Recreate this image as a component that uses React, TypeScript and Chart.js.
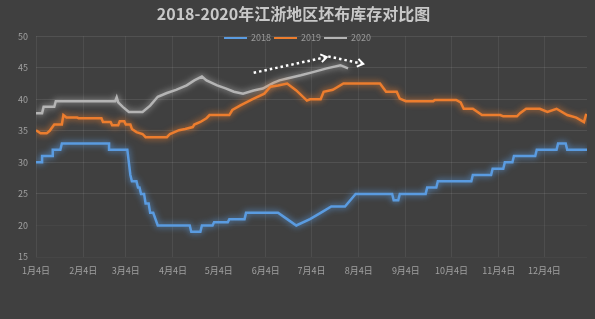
import React, { useEffect, useRef } from "react";
import { Chart, registerables } from "chart.js";

Chart.register(...registerables);

const chartTitle = "2018-2020年江浙地区坯布库存对比图";
const seriesNames = ["2018", "2019", "2020"];
const seriesColors = ["#5a9be0", "#ec7d2e", "#b4b4b4"];

// x = days since 1月4日
const tickDays = [0, 31, 59, 90, 120, 151, 181, 212, 243, 273, 304, 334];
const tickLabels = ["1月4日", "2月4日", "3月4日", "4月4日", "5月4日", "6月4日", "7月4日", "8月4日", "9月4日", "10月4日", "11月4日", "12月4日"];
const yTicks = [15, 20, 25, 30, 35, 40, 45, 50];

const days2018 = [0, 4, 4, 11, 11, 16, 17, 48, 48, 60, 61, 62, 63, 66, 67, 68, 69, 71, 72, 74, 75, 77, 80, 101, 102, 108, 109, 116, 117, 126, 127, 137, 138, 159, 165, 171, 180, 187, 194, 203, 210, 234, 235, 238, 239, 256, 257, 263, 264, 286, 287, 299, 300, 307, 308, 313, 314, 328, 329, 342, 343, 348, 349, 362];
const values2018 = [30, 30, 31, 31, 32, 32, 33, 33, 32, 32, 30, 28, 27, 27, 26, 26, 25, 25, 23.5, 23.5, 22, 22, 20, 20, 19, 19, 20, 20, 20.5, 20.5, 21, 21, 22, 22, 21, 20, 21, 22, 23, 23, 25, 25, 24, 24, 25, 25, 26, 26, 27, 27, 28, 28, 29, 29, 30, 30, 31, 31, 32, 32, 33, 33, 32, 32];

const days2019 = [0, 3, 7, 9, 12, 17, 18, 20, 27, 28, 43, 44, 49, 50, 54, 55, 58, 59, 62, 63, 66, 70, 72, 86, 88, 94, 98, 103, 104, 108, 112, 114, 127, 129, 134, 142, 150, 154, 159, 165, 171, 178, 180, 187, 189, 195, 202, 226, 230, 237, 239, 243, 261, 262, 276, 279, 281, 287, 293, 305, 307, 316, 318, 322, 331, 336, 342, 349, 355, 360, 361.5];
const values2019 = [35.1, 34.6, 34.6, 35, 36, 36, 37.5, 37.1, 37.1, 37, 37, 36.4, 36.4, 35.9, 35.9, 36.5, 36.5, 36, 36, 35.3, 34.8, 34.5, 34, 34, 34.5, 35.1, 35.3, 35.6, 36, 36.4, 37, 37.5, 37.5, 38.3, 39, 40, 40.9, 42, 42.2, 42.5, 41.4, 39.8, 40, 40, 41.2, 41.5, 42.5, 42.5, 41.2, 41.2, 40.1, 39.7, 39.7, 39.9, 39.9, 39.5, 38.5, 38.5, 37.5, 37.5, 37.3, 37.3, 37.8, 38.5, 38.5, 38, 38.5, 37.5, 37.1, 36.4, 37.7];

const days2020 = [0, 4, 5, 12, 13, 52, 53, 54, 57, 61, 70, 75, 80, 86, 92, 99, 104, 109, 112, 119, 125, 130, 136, 143, 149, 156, 160, 165, 174, 182, 191, 200, 205];
const values2020 = [37.8, 37.8, 38.8, 38.8, 39.7, 39.7, 40.3, 39.5, 38.8, 38, 38, 39, 40.4, 41, 41.5, 42.2, 43, 43.6, 43, 42.2, 41.7, 41.2, 40.9, 41.4, 41.7, 42.6, 43, 43.3, 43.8, 44.3, 44.9, 45.4, 44.9];

// dotted trend arrows (start day, start value, end day, end value)
const arrowStartDays = [143, 192];
const arrowStartValues = [44.2, 46.8];
const arrowEndDays = [191, 215];
const arrowEndValues = [46.7, 45.6];

const FONT = "'Noto Sans CJK SC', 'Noto Sans', sans-serif";

const toPoints = (d: number[], v: number[]) => d.map((x, i) => ({ x, y: v[i] }));

const glowPlugin = {
  id: "glow",
  beforeDatasetDraw(chart: any, args: any) {
    const ctx = chart.ctx;
    ctx.save();
    ctx.shadowColor = seriesColors[args.index];
    ctx.shadowBlur = 6;
  },
  afterDatasetDraw(chart: any) {
    chart.ctx.restore();
  },
};

const overlayPlugin = {
  id: "overlay",
  afterDraw(chart: any) {
    const ctx = chart.ctx;
    const xs = chart.scales.x;
    const ys = chart.scales.y;
    // dotted arrows
    ctx.save();
    ctx.strokeStyle = "#ffffff";
    ctx.lineWidth = 2.5;
    for (let i = 0; i < arrowStartDays.length; i++) {
      const x1 = xs.getPixelForValue(arrowStartDays[i]);
      const y1 = ys.getPixelForValue(arrowStartValues[i]);
      const x2 = xs.getPixelForValue(arrowEndDays[i]);
      const y2 = ys.getPixelForValue(arrowEndValues[i]);
      ctx.setLineDash([2.5, 3]);
      ctx.beginPath();
      ctx.moveTo(x1, y1);
      ctx.lineTo(x2, y2);
      ctx.stroke();
      const a = Math.atan2(y2 - y1, x2 - x1);
      ctx.setLineDash([]);
      ctx.lineWidth = 2;
      ctx.beginPath();
      ctx.moveTo(x2 - 7 * Math.cos(a - 0.6), y2 - 7 * Math.sin(a - 0.6));
      ctx.lineTo(x2, y2);
      ctx.lineTo(x2 - 7 * Math.cos(a + 0.6), y2 - 7 * Math.sin(a + 0.6));
      ctx.stroke();
      ctx.lineWidth = 2.5;
    }
    ctx.restore();

    // legend inside plot top
    ctx.save();
    ctx.font = "9px " + FONT;
    ctx.textBaseline = "middle";
    const lineW = 23;
    const gap = 4;
    const itemGap = 3;
    const widths = seriesNames.map((n) => ctx.measureText(n).width);
    const total = widths.reduce((s, w) => s + lineW + gap + w, 0) + itemGap * (seriesNames.length - 1);
    let x = chart.width / 2 - total / 2;
    const y = 38;
    seriesNames.forEach((n, i) => {
      ctx.strokeStyle = seriesColors[i];
      ctx.lineWidth = 2;
      ctx.beginPath();
      ctx.moveTo(x, y);
      ctx.lineTo(x + lineW, y);
      ctx.stroke();
      x += lineW + gap;
      ctx.fillStyle = "#9a9a9a";
      ctx.fillText(n, x, y);
      x += widths[i] + itemGap;
    });
    ctx.restore();
  },
};

export default function App() {
  const ref = useRef<HTMLCanvasElement>(null);
  useEffect(() => {
    document.body.style.margin = "0";
    const canvas = ref.current!;
    const chart = new Chart(canvas, {
      type: "line",
      data: {
        datasets: [
          { label: seriesNames[0], data: toPoints(days2018, values2018) },
          { label: seriesNames[1], data: toPoints(days2019, values2019) },
          { label: seriesNames[2], data: toPoints(days2020, values2020) },
        ].map((d, i) => ({
          ...d,
          borderColor: seriesColors[i],
          backgroundColor: seriesColors[i],
          borderWidth: 2.5,
          pointRadius: 0,
          tension: 0,
          fill: false,
        })),
      },
      options: {
        animation: false,
        responsive: false,
        devicePixelRatio: 1,
        layout: { padding: { left: 0, right: 8, top: 0, bottom: 0 } },
        plugins: {
          legend: { display: false },
          tooltip: { enabled: false },
          title: {
            display: true,
            text: chartTitle,
            color: "#c8c8c8",
            font: { family: FONT, size: 16, weight: "bold" },
            padding: { top: 4, bottom: 13 },
          },
        },
        scales: {
          x: {
            type: "linear",
            min: 0,
            max: 362,
            afterBuildTicks: (scale: any) => {
              scale.ticks = tickDays.map((v) => ({ value: v }));
            },
            afterFit: (scale: any) => {
              scale.height = 62;
            },
            ticks: {
              autoSkip: false,
              maxRotation: 0,
              padding: 8,
              color: "#a0a0a0",
              font: { family: FONT, size: 9 },
              callback: (v: any) => {
                const i = tickDays.indexOf(Number(v));
                return i >= 0 ? tickLabels[i] : "";
              },
            },
            grid: { color: "rgba(255,255,255,0.07)", drawTicks: false, lineWidth: 1 },
            border: { display: false },
          },
          y: {
            min: 15,
            max: 50,
            afterBuildTicks: (scale: any) => {
              scale.ticks = yTicks.map((v) => ({ value: v }));
            },
            afterFit: (scale: any) => {
              scale.width = 36;
            },
            ticks: {
              padding: 8,
              color: "#a0a0a0",
              font: { family: FONT, size: 9 },
            },
            grid: {
              drawTicks: false,
              color: (c: any) => (c.tick && c.tick.value >= 25 ? "rgba(255,255,255,0.09)" : "rgba(255,255,255,0.03)"),
            },
            border: { display: false },
          },
        },
      },
      plugins: [glowPlugin, overlayPlugin],
    });
    return () => chart.destroy();
  }, []);
  return (
    <div style={{ position: "fixed", left: 0, top: 0, width: 595, height: 319, background: "#404040" }}>
      <canvas ref={ref} width={595} height={319} style={{ width: 595, height: 319, display: "block" }} />
    </div>
  );
}
